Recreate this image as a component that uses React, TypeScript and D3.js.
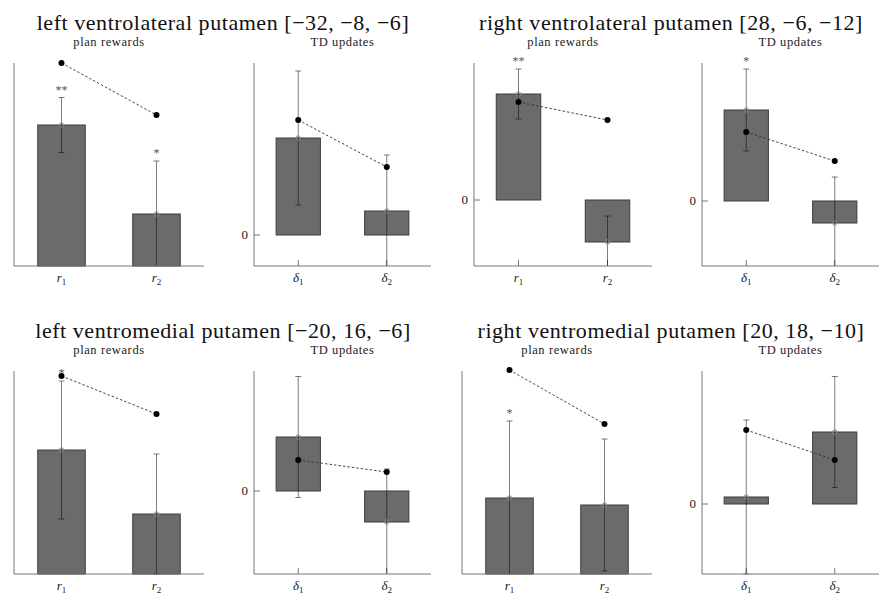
import React from 'react';
import * as d3 from 'd3';

// region titles (one per 2-panel block)
const regionTitles = [
  'left ventrolateral putamen [\u221232, \u22128, \u22126]',
  'right ventrolateral putamen [28, \u22126, \u221212]',
  'left ventromedial putamen [\u221220, 16, \u22126]',
  'right ventromedial putamen [20, 18, \u221210]'
];
const panelTitles = ['plan rewards', 'TD updates'];
const panelSymbols = ['r', '\u03b4'];
const subscripts = ['1', '2'];

// per panel: [LVL plan, LVL TD, RVL plan, RVL TD, LVM plan, LVM TD, RVM plan, RVM TD]
const means = [
  [1.41, 0.52], [0.97, 0.24],
  [1.06, -0.42], [0.91, -0.22],
  [1.24, 0.60], [0.54, -0.31],
  [0.76, 0.69], [0.07, 0.72]
];
const sems = [
  [0.275, 0.53], [0.67, 0.56],
  [0.25, 0.26], [0.41, 0.46],
  [0.69, 0.60], [0.605, 0.53],
  [0.77, 0.66], [0.77, 0.555]
];
const modelValues = [
  [2.03, 1.51], [1.15, 0.68],
  [0.98, 0.80], [0.69, 0.40],
  [1.98, 1.60], [0.31, 0.19],
  [2.04, 1.50], [0.74, 0.44]
];
const stars = [
  ['**', '*'], ['', ''],
  ['**', ''], ['*', ''],
  ['*', ''], ['', ''],
  ['*', ''], ['', '']
];
const yLimits = [
  [0, 2.03], [-0.31, 1.72],
  [-0.66, 1.37], [-0.65, 1.38],
  [0, 2.03], [-0.83, 1.20],
  [0, 2.03], [-0.70, 1.33]
];

const FONT = '"Liberation Serif", "DejaVu Serif", serif';
const AXIS = '#777';

const Panel = ({ idx, left, right, top, bottom }) => {
  const kind = idx % 2;
  const x = d3.scaleLinear().domain([0.5, 2.5]).range([left, right]);
  const y = d3.scaleLinear().domain(yLimits[idx]).range([bottom, top]);
  const [lo, hi] = yLimits[idx];
  const clampV = (v: number) => Math.max(lo, Math.min(hi, v));
  const showZero = lo < 0;
  const bw = x(1.25) - x(1);
  const cats = [1, 2];
  const line = d3.line<number>().x((_, i) => x(cats[i])).y(d => y(d));

  return (
    <g>
      <text x={(left + right) / 2} y={top - 17} textAnchor="middle" fontSize={12.5} letterSpacing={0.6}
        fontFamily={FONT} fill="#222">
        {panelTitles[kind]}
      </text>
      {/* ticks */}
      {cats.map(c => (
        <line key={'t' + c} x1={x(c)} x2={x(c)} y1={bottom} y2={bottom - 6} stroke={AXIS} strokeWidth={1} />
      ))}
      {showZero && (
        <g>
          <line x1={left} x2={left + 6} y1={y(0)} y2={y(0)} stroke={AXIS} strokeWidth={1} />
          <text x={left - 6} y={y(0) + 4} textAnchor="end" fontSize={13} fontFamily={FONT} fill="#222">0</text>
        </g>
      )}
      {/* bars */}
      {means[idx].map((m, i) => {
        const y0 = y(0);
        const y1 = y(m);
        return (
          <rect key={'b' + i} x={x(cats[i]) - bw} width={bw * 2} y={Math.min(y0, y1)} height={Math.abs(y1 - y0)}
            fill="#6b6b6b" stroke="#3c3c3c" strokeWidth={1} />
        );
      })}
      {/* error bars */}
      {means[idx].map((m, i) => {
        const cx = x(cats[i]);
        const up = m + sems[idx][i];
        const dn = m - sems[idx][i];
        return (
          <g key={'e' + i} stroke="#000" strokeOpacity={0.5} strokeWidth={1}>
            <line x1={cx} x2={cx} y1={y(clampV(up))} y2={y(clampV(dn))} />
            {up <= hi && <line x1={cx - 3} x2={cx + 3} y1={y(up)} y2={y(up)} />}
            {dn >= lo && <line x1={cx - 3} x2={cx + 3} y1={y(dn)} y2={y(dn)} />}
            <circle cx={cx} cy={y(m)} r={2.2} fill="none" stroke="#888" strokeOpacity={1} />
          </g>
        );
      })}
      {/* significance */}
      {stars[idx].map((s, i) => s ? (
        <text key={'s' + i} x={x(cats[i])} y={y(means[idx][i] + sems[idx][i]) - 4} textAnchor="middle"
          fontSize={12} fontFamily={FONT} fill="#555">{s}</text>
      ) : null)}
      {/* model values */}
      <path d={line(modelValues[idx]) || ''} fill="none" stroke="#333" strokeWidth={0.9} strokeDasharray="2.5,2" />
      {modelValues[idx].map((v, i) => (
        <circle key={'d' + i} cx={x(cats[i])} cy={y(v)} r={3} fill="#000" />
      ))}
      {/* axes */}
      <line x1={left} x2={left} y1={top} y2={bottom} stroke={AXIS} strokeWidth={1} />
      <line x1={left} x2={right} y1={bottom} y2={bottom} stroke={AXIS} strokeWidth={1} />
      {cats.map((c, i) => (
        <text key={'l' + c} x={x(c)} y={bottom + 16} textAnchor="middle" fontSize={13} fontFamily={FONT} fill="#222">
          <tspan fontStyle="italic">{panelSymbols[kind]}</tspan>
          <tspan fontSize={9} dy={3}>{subscripts[i]}</tspan>
        </text>
      ))}
    </g>
  );
};

const App = () => {
  return (
    <svg width={882} height={594} style={{ position: 'absolute', left: 0, top: 0, background: '#fff' }}>
      {regionTitles.map((t, r) => {
        const col = r % 2;
        const row = Math.floor(r / 2);
        const rx = col * 448;
        const top = row ? 371 : 63;
        const bottom = top + 203;
        const planIdx = r * 2;
        const tdIdx = r * 2 + 1;
        const planLeft = rx + (yLimits[planIdx][0] < 0 ? 26 : 14);
        return (
          <g key={r}>
            <text x={rx + 223} y={top - 33} textAnchor="middle" fontSize={22} letterSpacing={0.55}
              fontFamily={FONT} fill="#111">{t}</text>
            <Panel idx={planIdx} left={planLeft} right={rx + 204} top={top} bottom={bottom} />
            <Panel idx={tdIdx} left={rx + 254} right={rx + 431} top={top} bottom={bottom} />
          </g>
        );
      })}
    </svg>
  );
};

export default App;
